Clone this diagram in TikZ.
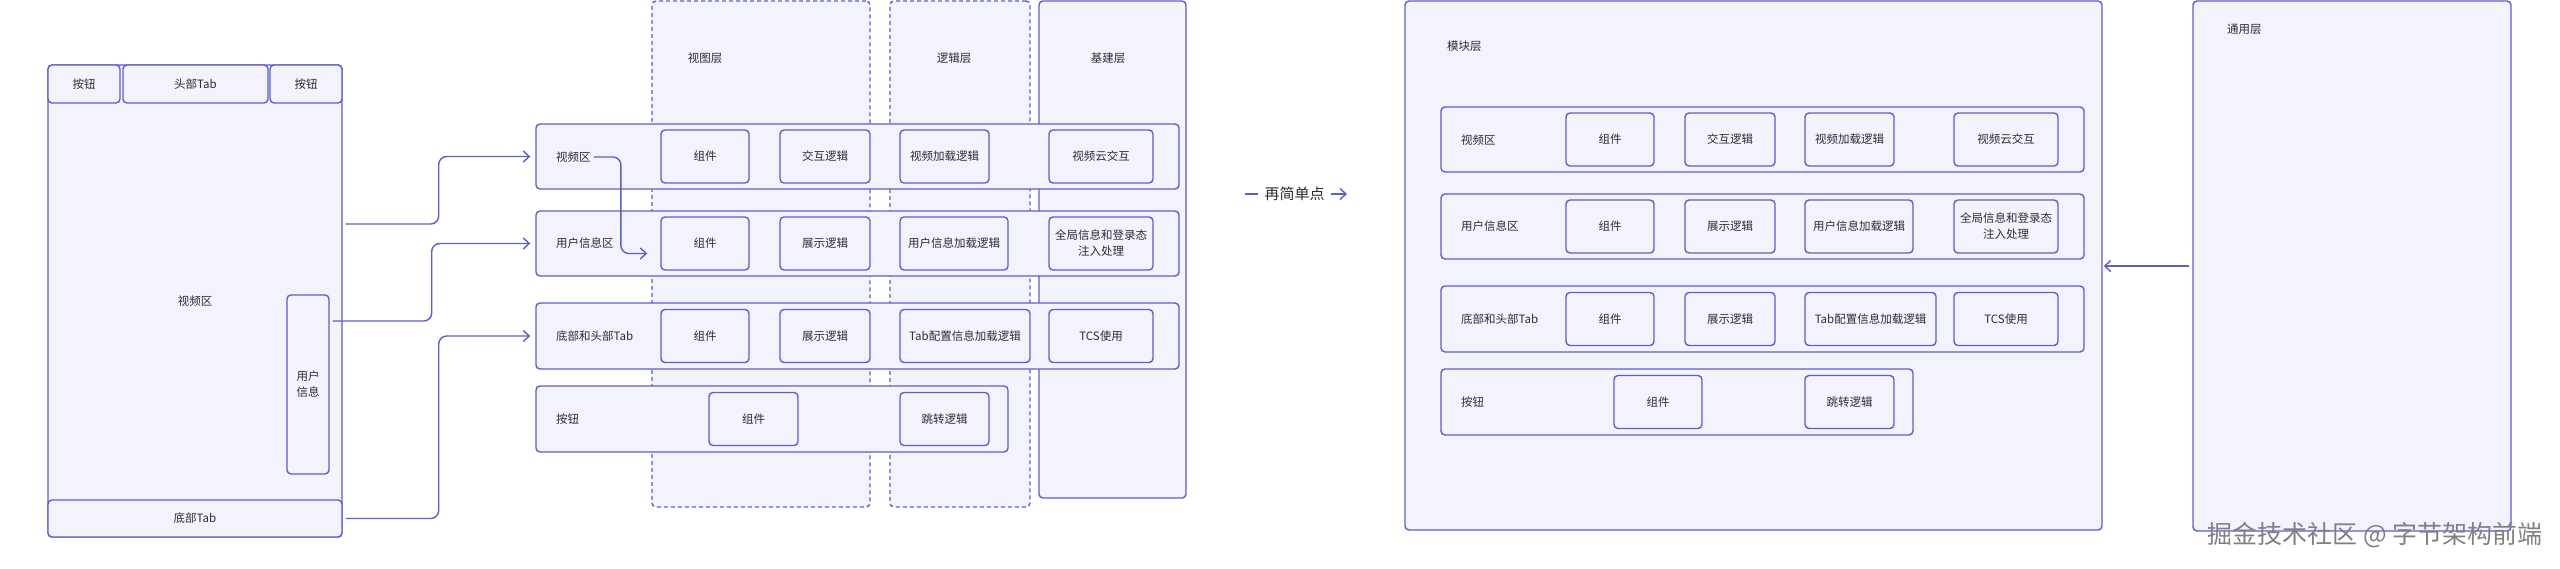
\documentclass[tikz,border=0pt]{standalone}
\usepackage{fontspec}
\setmainfont{Noto Sans CJK SC}
\usetikzlibrary{arrows.meta,positioning}
\definecolor{lineblue}{RGB}{92,95,200}
\definecolor{boxfill}{RGB}{243,243,253}
\definecolor{txtgray}{RGB}{45,45,45}

\begin{document}
\begin{tikzpicture}[x=1pt,y=-1pt,font=\fontsize{11.5}{16}\selectfont,text=txtgray,
  box/.style={draw=lineblue,line width=1.4pt,fill=boxfill,rounded corners=4pt,inner sep=0pt,align=center},
  sz/.style 2 args={minimum width=#1pt,minimum height=#2pt},
  col/.style={box,dash pattern=on 4pt off 3pt},
  lab/.style={inner sep=0pt,anchor=west},
  conn/.style={draw=lineblue,line width=1.4pt,rounded corners=8pt},
  >={Straight Barb[length=6pt,width=11pt]}]
\useasboundingbox (0,0) rectangle (2560,568);

% phone screen
\node[box,sz={294}{472}] (phone) at (195,301) {视频区};
\node[box,sz={72}{38}] (btnl) at (84,84) {按钮};
\node[box,sz={145}{38}] (headtab) at (195.5,84) {头部Tab};
\node[box,sz={72}{38}] (btnr) at (306,84) {按钮};
\node[box,sz={294}{37}] (bottab) at (195,518.5) {底部Tab};
\node[box,sz={42}{179}] (userinfo) at (308,384.5) {用户\\信息};

% layer columns
\node[col,sz={218}{506}] (viewcol) at (761,254) {};
\node[col,sz={140}{506}] (logiccol) at (960,254) {};
\node[box,sz={147}{497}] (basecol) at (1112.5,249.5) {};
\node (viewlab) at (705,58) {视图层};
\node (logiclab) at (954,58) {逻辑层};
\node (baselab) at (1108,58) {基建层};

% rows
\node[box,sz={643}{65}] (vrow) at (857.5,156.5) {};
\node[box,sz={643}{65}] (urow) at (857.5,243.5) {};
\node[box,sz={643}{66}] (trow) at (857.5,336) {};
\node[box,sz={472}{66}] (brow) at (772,419) {};
\node[lab] (vlab) at (556,157) {视频区};
\node[lab] (ulab) at (556,243.5) {用户信息区};
\node[lab] (tlab) at (556,336) {底部和头部Tab};
\node[lab] (blab) at (556,419) {按钮};
\foreach \n/\x/\w/\t in {v1/705/88/组件,v2/825/90/交互逻辑,v3/944.5/89/视频加载逻辑,v4/1101/104/视频云交互}
  \node[box,sz={\w}{53}] (\n) at (\x,156.5) {\t};
\foreach \n/\x/\w/\t in {u1/705/88/组件,u2/825/90/展示逻辑,u3/954/108/用户信息加载逻辑,u4/1101/104/{全局信息和登录态\\注入处理}}
  \node[box,sz={\w}{53}] (\n) at (\x,243.5) {\t};
\foreach \n/\x/\w/\t in {t1/705/88/组件,t2/825/90/展示逻辑,t3/965/130/Tab配置信息加载逻辑,t4/1101/104/TCS使用}
  \node[box,sz={\w}{53}] (\n) at (\x,336) {\t};
\node[box,sz={89}{53}] (b1) at (753.5,419) {组件};
\node[box,sz={89}{53}] (b2) at (944.5,419) {跳转逻辑};

% simpler
\coordinate (sa) at (1245,194);
\coordinate (sb) at (1347,194);
\node[inner sep=6pt,font=\fontsize{15}{18}\selectfont] (simple) at (1294.5,194) {再简单点};

% module layer
\node[box,sz={697}{529}] (mod) at (1753.5,265.5) {};
\node[lab] (modlab) at (1447,46) {模块层};
\node[box,sz={643}{65}] (mv) at (1762.5,139.5) {};
\node[box,sz={643}{65}] (mu) at (1762.5,226.5) {};
\node[box,sz={643}{66}] (mt) at (1762.5,319) {};
\node[box,sz={472}{66}] (mb) at (1677,402) {};
\node[lab] (mvlab) at (1461,140) {视频区};
\node[lab] (mulab) at (1461,226.5) {用户信息区};
\node[lab] (mtlab) at (1461,319) {底部和头部Tab};
\node[lab] (mblab) at (1461,402) {按钮};
\foreach \n/\x/\w/\t in {mv1/1610/88/组件,mv2/1730/90/交互逻辑,mv3/1849.5/89/视频加载逻辑,mv4/2006/104/视频云交互}
  \node[box,sz={\w}{53}] (\n) at (\x,139.5) {\t};
\foreach \n/\x/\w/\t in {mu1/1610/88/组件,mu2/1730/90/展示逻辑,mu3/1859/108/用户信息加载逻辑,mu4/2006/104/{全局信息和登录态\\注入处理}}
  \node[box,sz={\w}{53}] (\n) at (\x,226.5) {\t};
\foreach \n/\x/\w/\t in {mt1/1610/88/组件,mt2/1730/90/展示逻辑,mt3/1870.5/131/Tab配置信息加载逻辑,mt4/2006/104/TCS使用}
  \node[box,sz={\w}{53}] (\n) at (\x,319) {\t};
\node[box,sz={88}{53}] (mb1) at (1658,402) {组件};
\node[box,sz={89}{53}] (mb2) at (1849.5,402) {跳转逻辑};

% common layer
\node[box,sz={318}{530}] (gen) at (2352,266) {};
\node[lab] (genlab) at (2227,29) {通用层};

% connectors
\draw[conn,->,shorten >=5pt] ([xshift=3pt,yshift=77pt]phone.east) -- ++(93,0) |- (vrow.west);
\draw[conn,->,shorten >=5pt] ([xshift=3pt,yshift=63.5pt]userinfo.east) -- ++(99,0) |- (urow.west);
\draw[conn,->,shorten >=5pt] ([xshift=3pt]bottab.east) -- ++(93,0) |- (trow.west);
\draw[conn,->] ([xshift=3pt]vlab.east) -- ++(27,0) |- ([shift={(-13,10)}]u1.west);
\draw[conn] (sa) -- (simple);
\draw[conn,->] (simple) -- (sb);
\draw[conn,->,shorten <=3pt,shorten >=1pt] (gen.west) -- (gen.west -| mod.east);

\node[text=black!50,font=\fontsize{25}{28}\selectfont,inner sep=0pt] (mark) at (2375,535) {掘金技术社区 @ 字节架构前端};
\end{tikzpicture}
\end{document}
